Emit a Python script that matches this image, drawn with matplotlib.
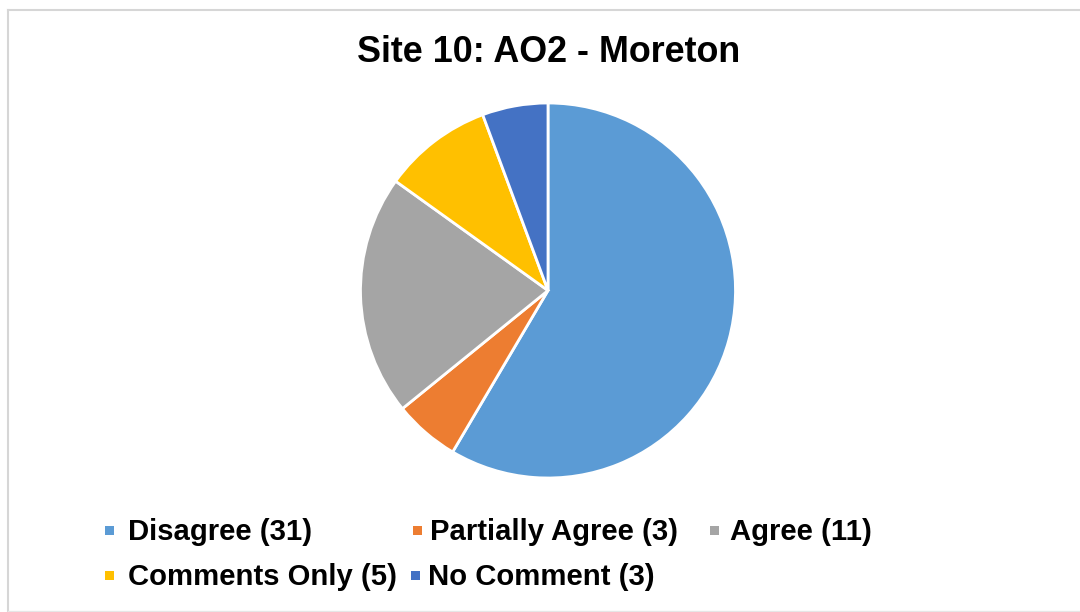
import matplotlib
matplotlib.use("Agg")
import matplotlib.pyplot as plt
from matplotlib.patches import Rectangle
from matplotlib.lines import Line2D

# ---- data ----
categories = ["Disagree", "Partially Agree", "Agree", "Comments Only", "No Comment"]
counts = [31, 3, 11, 5, 3]
colors = ["#5B9BD5", "#ED7D31", "#A5A5A5", "#FFC000", "#4472C4"]
title = "Site 10: AO2 - Moreton"

W, H = 1080, 612
plt.rcParams['font.family'] = ['Liberation Sans', 'DejaVu Sans']
fig = plt.figure(figsize=(W / 100, H / 100), dpi=100)
fig.patch.set_facecolor("white")

def fx(x):
    return x / W

def fy(y):
    return 1 - y / H

# frame
fig.add_artist(Line2D([fx(8), fx(1080)], [fy(10), fy(10)], color="#D6D6D6", lw=1.5))
fig.add_artist(Line2D([fx(8), fx(8)], [fy(10), fy(612)], color="#D6D6D6", lw=1.5))
fig.add_artist(Line2D([fx(8), fx(1080)], [fy(610.5), fy(610.5)], color="#E6E6E6", lw=1.0))

# pie
cx, cy, r = 548, 290.5, 187.5
ax = fig.add_axes([fx(cx - r), fy(cy + r), 2 * r / W, 2 * r / H])
ax.pie(counts, colors=colors, startangle=90, counterclock=False,
       wedgeprops=dict(edgecolor="white", linewidth=2))
ax.set_xlim(-1.0, 1.0)
ax.set_ylim(-1.0, 1.0)
ax.set_aspect("equal")
ax.axis("off")

# title
fig.text(fx(549), fy(62), title, ha="center", va="baseline",
         fontsize=25.8, fontweight="bold", color="#000000")

# legend (manual layout)
legend_pos = [(105, 530, 128), (413, 530, 430), (710, 530, 730),
              (105, 575, 128), (411, 575, 428)]
sq = 9
for (mx, my, tx), cat, n, col in zip(legend_pos, categories, counts, colors):
    fig.add_artist(Rectangle((fx(mx), fy(my + sq / 2)), sq / W, sq / H,
                             facecolor=col, edgecolor="none",
                             transform=fig.transFigure))
    fig.text(fx(tx), fy(my + 10), f"{cat} ({n})", ha="left", va="baseline",
             fontsize=21.1, fontweight="bold", color="#000000")

fig.savefig("out.png", dpi=100, facecolor="white")
